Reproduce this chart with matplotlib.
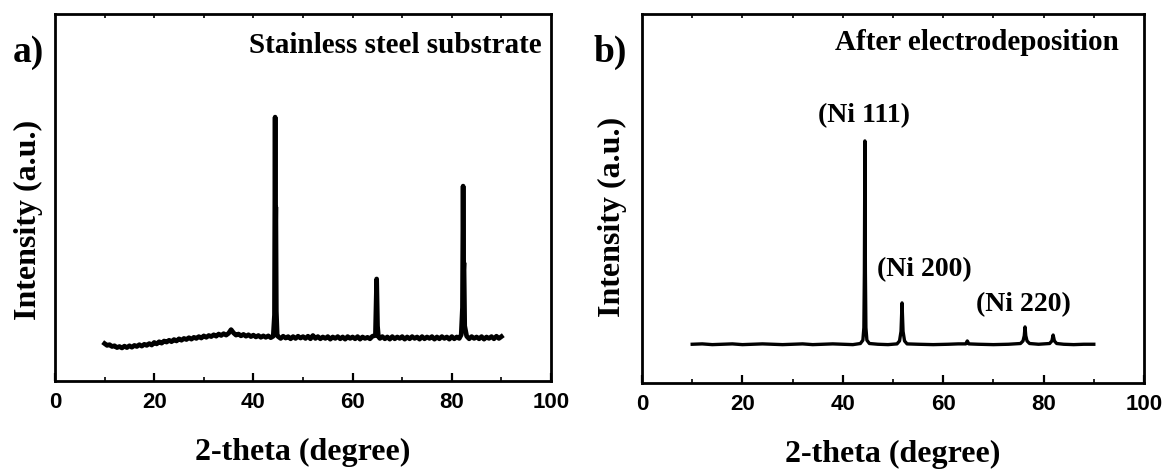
import numpy as np
import matplotlib
matplotlib.use("Agg")
import matplotlib.pyplot as plt

# ---- (a) stainless steel substrate: 2-theta (deg) and intensity (a.u.) ----
sub_theta = [10, 10.5, 11, 11.5, 12, 12.5, 13, 13.5, 14, 14.5, 15, 15.5, 16,
             16.5, 17, 17.5, 18, 18.5, 19, 19.5, 20, 20.5, 21, 21.5, 22, 22.5,
             23, 23.5, 24, 24.5, 25, 25.5, 26, 26.5, 27, 27.5, 28, 28.5, 29,
             29.5, 30, 30.5, 31, 31.5, 32, 32.5, 33, 33.5, 34, 34.5, 35, 35.5,
             36, 36.5, 37, 37.5, 38, 38.5, 39, 39.5, 40, 40.5, 41, 41.5, 42,
             42.5, 43, 43.5, 44.0, 44.25, 44.38, 44.45, 44.52, 44.62, 44.8,
             45, 45.5, 46, 46.5, 47, 47.5, 48, 48.5, 49, 49.5, 50, 50.5, 51,
             51.5, 52, 52.5, 53, 53.5, 54, 54.5, 55, 55.5, 56, 56.5, 57, 57.5,
             58, 58.5, 59, 59.5, 60, 60.5, 61, 61.5, 62, 62.5, 63, 63.5, 64,
             64.6, 64.85, 64.95, 65.02, 65.2, 65.5, 66, 66.5, 67, 67.5, 68,
             68.5, 69, 69.5, 70, 70.5, 71, 71.5, 72, 72.5, 73, 73.5, 74, 74.5,
             75, 75.5, 76, 76.5, 77, 77.5, 78, 78.5, 79, 79.5, 80, 80.5, 81,
             81.5, 81.9, 82.15, 82.28, 82.38, 82.45, 82.6, 83, 83.5, 84, 84.5,
             85, 85.5, 86, 86.5, 87, 87.5, 88, 88.5, 89, 89.5, 90]
sub_int = [102, 97, 99, 94, 96, 91, 94, 90, 95, 91, 96, 92, 97,
           94, 99, 95, 100, 97, 102, 98, 105, 101, 107, 103, 109, 106,
           111, 107, 113, 109, 115, 111, 116, 113, 118, 114, 119, 116, 121,
           117, 123, 119, 124, 121, 126, 122, 128, 124, 129, 125, 130, 140,
           131, 125, 128, 123, 127, 122, 126, 121, 125, 120, 124, 119, 123,
           119, 123, 118, 122, 180, 719, 400, 474, 190, 124,
           121, 116, 122, 117, 121, 115, 121, 116, 122, 117, 121, 116, 122,
           115, 124, 116, 121, 115, 120, 116, 121, 114, 120, 116, 121, 115,
           120, 114, 121, 116, 120, 115, 121, 114, 120, 116, 119, 115, 122,
           124, 278, 207, 150, 121, 116, 121, 115, 120, 114, 121,
           115, 120, 116, 121, 114, 120, 115, 121, 116, 120, 114, 121, 115,
           120, 116, 121, 114, 120, 115, 121, 116, 120, 114, 121, 115, 120,
           116, 126, 200, 531, 300, 322, 150, 122, 115, 121, 116,
           120, 115, 121, 114, 120, 116, 121, 115, 122, 116, 121]

# ---- (b) after electrodeposition ----
dep_theta = [10, 12, 14, 16, 18, 20, 22, 24, 26, 28, 30, 32, 34, 36, 38, 40,
             42, 43.5, 44.0, 44.2, 44.3, 44.4, 44.5, 44.6, 44.8, 45.3, 47, 49,
             50.8, 51.3, 51.6, 51.8, 52.0, 52.3, 52.8, 55, 58, 61, 63, 64.5,
             64.8, 65.1, 67, 70, 73, 75.4, 75.9, 76.15, 76.3, 76.45, 76.7, 77.2,
             79, 81.2, 81.65, 81.9, 82.15, 82.6, 84, 86, 88, 90]
dep_int = [105, 106, 104, 105, 106, 104, 105, 106, 105, 104, 105, 106, 104, 105, 106, 105,
           104, 107, 116, 150, 300, 656, 300, 150, 116, 107, 105, 104,
           106, 114, 140, 217, 140, 114, 106, 105, 104, 105, 106, 106,
           114, 106, 105, 104, 105, 107, 114, 128, 152, 128, 114, 107,
           105, 107, 114, 130, 114, 107, 105, 104, 105, 105]

peak_labels = ["(Ni 111)", "(Ni 200)", "(Ni 220)"]
peak_label_x = [44.2, 56.2, 75.9]
peak_label_y = [707, 290, 195]

panels = [
    dict(theta=sub_theta, inten=sub_int, title="Stainless steel substrate",
         tag="a)", lw=3.4, rect=[55 / 1162, 89 / 470, 496 / 1162, 367 / 470],
         title_x=0.981, title_y=0.894, tag_x=13, ylab_y=0.44),
    dict(theta=dep_theta, inten=dep_int, title="After electrodeposition",
         tag="b)", lw=2.4, rect=[642 / 1162, 87 / 470, 502 / 1162, 369 / 470],
         title_x=0.950, title_y=0.902, tag_x=594, ylab_y=0.45),
]

serif = ["Liberation Serif", "DejaVu Serif"]
sans = ["Liberation Sans", "DejaVu Sans"]

fig = plt.figure(figsize=(11.62, 4.70), dpi=100)

for i, p in enumerate(panels):
    ax = fig.add_axes(p["rect"])
    ax.plot(p["theta"], p["inten"], color="black", lw=p["lw"],
            solid_joinstyle="round")
    ax.set_xlim(0, 100)
    ax.set_ylim(0, 1000)
    ax.set_yticks([])
    ax.set_xticks(np.arange(0, 101, 20))
    ax.set_xticks(np.arange(10, 100, 20), minor=True)
    ax.tick_params(axis="x", which="major", direction="in", length=6,
                   width=1.6, pad=8)
    ax.tick_params(axis="x", which="minor", direction="in", length=3,
                   width=1.2)
    for lab in ax.get_xticklabels():
        lab.set_family(sans)
        lab.set_fontweight("bold")
        lab.set_fontsize(16)
    for s in ax.spines.values():
        s.set_linewidth(2.0)

    top = ax.secondary_xaxis("top")
    top.set_xticks(np.arange(10, 100, 10))
    top.tick_params(direction="in", length=3, width=1.2, labeltop=False)
    top.spines["top"].set_visible(False)

    ax.set_xlabel("2-theta (degree)", family=serif, fontweight="bold",
                  fontsize=23, labelpad=18)
    ax.set_ylabel("Intensity (a.u.)", family=serif, fontweight="bold",
                  fontsize=23)
    ax.yaxis.set_label_coords(-0.025 if i == 0 else -0.03, p["ylab_y"])

    ax.text(p["title_x"], p["title_y"], p["title"], transform=ax.transAxes,
            ha="right", va="baseline", family=serif, fontweight="bold",
            fontsize=21)
    fig.text(p["tag_x"] / 1162, 1 - 62 / 470, p["tag"], ha="left",
             va="baseline", family=serif, fontweight="bold", fontsize=27)

    if i == 1:
        for txt, lx, ly in zip(peak_labels, peak_label_x, peak_label_y):
            ax.text(lx, ly, txt, ha="center", va="baseline", family=serif,
                    fontweight="bold", fontsize=20)

fig.savefig("out.png", dpi=100)
